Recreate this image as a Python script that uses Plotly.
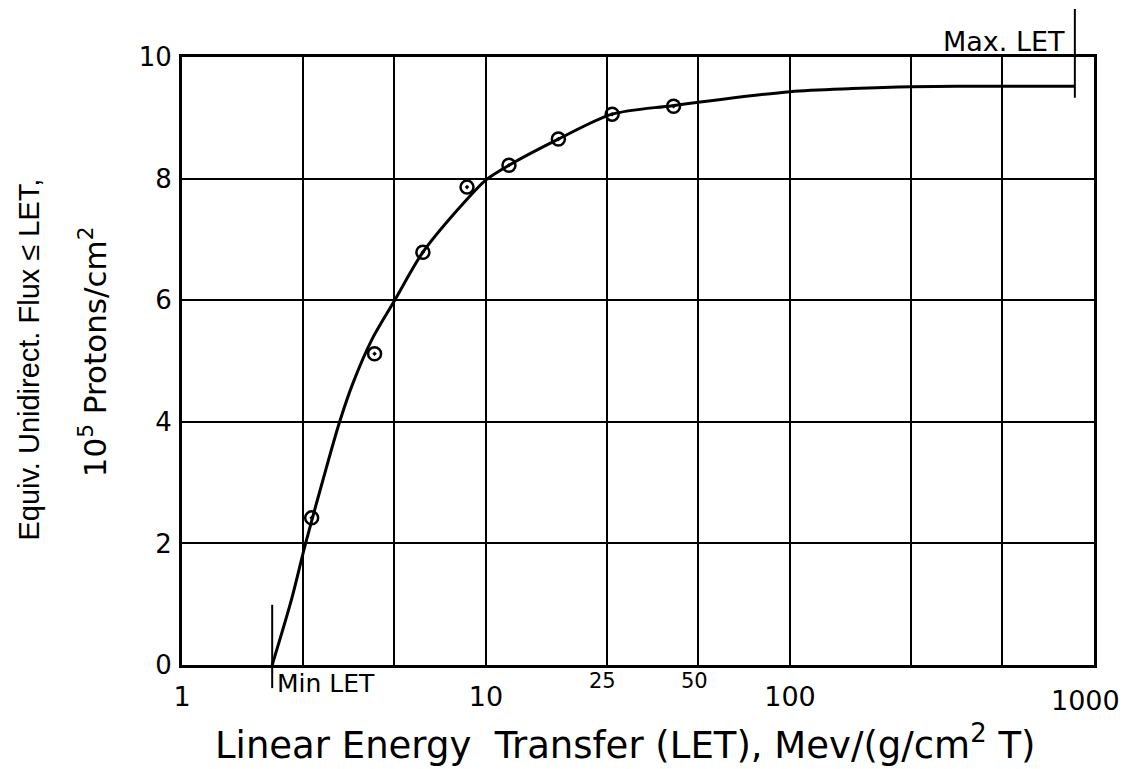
import math
import plotly.graph_objects as go

# Smooth fitted curve
curve_x = [1.98, 2.29, 2.55, 2.99, 3.3, 3.64, 4.24, 5.01, 6.2, 8.66, 10.0, 11.9, 17.3, 26, 41, 100, 160, 250, 500, 865]
curve_y = [0.0, 1.07, 2.0, 3.26, 4.0, 4.62, 5.38, 6.0, 6.79, 7.66, 7.98, 8.22, 8.65, 9.06, 9.2, 9.43, 9.48, 9.51, 9.52, 9.52]

# Measured points (circles)
pts_x = [2.67, 4.3, 6.2, 8.66, 11.9, 17.3, 26.0, 41.4]
pts_y = [2.42, 5.12, 6.79, 7.86, 8.22, 8.65, 9.06, 9.19]

# Axis grid / labels
x_grid = [1, 2.5, 5, 10, 25, 50, 100, 250, 500, 1000]
x_labels = ["1", "", "", "10", "", "", "100", "", "", ""]
x_low_labels = [1000]
x_extra_labels = [25, 50]
y_ticks = [0, 2, 4, 6, 8, 10]
y_labels = ["0", "2", "4", "6", "8", "10"]

min_let = 1.98
max_let = 865

FONT = "DejaVu Sans"
FONT2 = "Liberation Sans"

fig = go.Figure()
fig.add_trace(go.Scatter(x=curve_x, y=curve_y, mode="lines",
                         line=dict(color="black", width=3, shape="spline", smoothing=0.8),
                         hoverinfo="skip", showlegend=False))
fig.add_trace(go.Scatter(x=pts_x, y=pts_y, mode="markers",
                         marker=dict(symbol="circle-open-dot", size=13, color="black",
                                     line=dict(color="black", width=2.5)),
                         showlegend=False))

shapes = [
    dict(type="line", xref="x", yref="paper", x0=min_let, x1=min_let, y0=0.099, y1=-0.038,
         line=dict(color="black", width=2)),
    dict(type="line", xref="x", yref="paper", x0=max_let, x1=max_let, y0=1.079, y1=0.933,
         line=dict(color="black", width=2)),
]

annotations = [
    dict(x=math.log10(min_let), xref="x", y=-0.031, yref="paper", text="Min LET", showarrow=False,
         xanchor="left", yanchor="middle", xshift=3, font=dict(family=FONT, size=25, color="black")),
    dict(x=math.log10(max_let), xref="x", y=1.025, yref="paper", text="Max. LET", showarrow=False,
         xanchor="right", yanchor="middle", xshift=-8, font=dict(family=FONT, size=27, color="black")),
    dict(x=0.486, xref="paper", y=-0.171, yref="paper",
         text="Linear Energy  Transfer (LET), Mev/(g/cm<sup>2</sup> T)", showarrow=False,
         xanchor="center", yanchor="bottom", font=dict(family=FONT, size=37, color="black")),
    dict(x=-0.168, xref="paper", y=0.502, yref="paper",
         text="Equiv. Unidirect. Flux \u2264 LET,", textangle=-90, showarrow=False,
         xanchor="center", yanchor="middle", font=dict(family=FONT2, size=29, color="black")),
    dict(x=-0.0976, xref="paper", y=0.516, yref="paper",
         text="10<sup>5</sup> Protons/cm<sup>2</sup>", textangle=-90, showarrow=False,
         xanchor="center", yanchor="middle", font=dict(family=FONT, size=31, color="black")),
]
for v in x_low_labels:
    annotations.append(dict(x=math.log10(v), xref="x", y=-0.0576, yref="paper", text=str(v),
                            showarrow=False, xanchor="center", yanchor="middle", xshift=-9,
                            font=dict(family=FONT, size=27, color="black")))
for v in x_extra_labels:
    annotations.append(dict(x=math.log10(v), xref="x", y=-0.026, yref="paper", text=str(v),
                            showarrow=False, xanchor="center", yanchor="middle", xshift=-4,
                            font=dict(family=FONT, size=21, color="black")))

fig.update_layout(
    width=1126, height=769,
    margin=dict(l=182, r=32, t=57, b=104),
    paper_bgcolor="white", plot_bgcolor="white",
    shapes=shapes, annotations=annotations,
    xaxis=dict(type="log", range=[0, 3], tickvals=x_grid, ticktext=x_labels,
               showgrid=True, gridcolor="black", gridwidth=2,
               showline=True, linecolor="black", linewidth=3, mirror=True,
               ticks="", ticklabelstandoff=6, zeroline=False,
               tickfont=dict(family=FONT, size=27, color="black")),
    yaxis=dict(range=[0, 10], tickvals=y_ticks, ticktext=y_labels,
               showgrid=True, gridcolor="black", gridwidth=2,
               showline=True, linecolor="black", linewidth=3, mirror=True,
               ticks="", ticklabelstandoff=2, zeroline=False,
               tickfont=dict(family=FONT, size=26, color="black")),
)

fig.write_html("out.html", config={"displayModeBar": False},
               post_script="document.body.style.margin='0px';")
